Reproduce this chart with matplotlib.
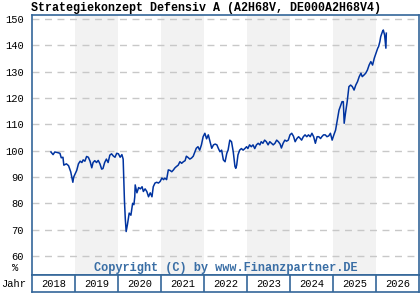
import matplotlib
matplotlib.use("Agg")
import matplotlib.pyplot as plt

# decimal year / value (%)
t = [2018.44, 2018.49, 2018.53, 2018.59, 2018.65, 2018.68, 2018.72, 2018.74, 2018.80, 2018.85,
     2018.90, 2018.93, 2018.95, 2018.97, 2019.04, 2019.08, 2019.12, 2019.16, 2019.19, 2019.23,
     2019.27, 2019.31, 2019.35, 2019.39, 2019.42, 2019.46, 2019.50, 2019.54, 2019.58, 2019.62,
     2019.65, 2019.69, 2019.73, 2019.77, 2019.81, 2019.85, 2019.89, 2019.93, 2019.97, 2020.01,
     2020.05, 2020.09, 2020.12, 2020.15, 2020.17, 2020.19, 2020.22, 2020.26, 2020.30, 2020.34,
     2020.37, 2020.39, 2020.40, 2020.44, 2020.48, 2020.52, 2020.56, 2020.59, 2020.63, 2020.67,
     2020.71, 2020.75, 2020.79, 2020.82, 2020.86, 2020.90, 2020.94, 2020.98, 2021.02, 2021.06,
     2021.09, 2021.13, 2021.17, 2021.21, 2021.25, 2021.29, 2021.32, 2021.36, 2021.40, 2021.44,
     2021.48, 2021.52, 2021.56, 2021.59, 2021.63, 2021.67, 2021.71, 2021.75, 2021.79, 2021.82,
     2021.86, 2021.90, 2021.94, 2021.98, 2022.02, 2022.06, 2022.10, 2022.14, 2022.18, 2022.22,
     2022.26, 2022.30, 2022.33, 2022.37, 2022.41, 2022.45, 2022.49, 2022.53, 2022.56, 2022.60,
     2022.64, 2022.68, 2022.72, 2022.74, 2022.76, 2022.79, 2022.83, 2022.87, 2022.91, 2022.95,
     2022.99, 2023.02, 2023.06, 2023.10, 2023.14, 2023.18, 2023.22, 2023.26, 2023.30, 2023.33,
     2023.37, 2023.41, 2023.45, 2023.49, 2023.53, 2023.57, 2023.61, 2023.65, 2023.69, 2023.73,
     2023.77, 2023.80, 2023.84, 2023.88, 2023.92, 2023.96, 2024.00, 2024.04, 2024.08, 2024.12,
     2024.16, 2024.20, 2024.24, 2024.27, 2024.31, 2024.35, 2024.39, 2024.43, 2024.47, 2024.51,
     2024.55, 2024.59, 2024.63, 2024.67, 2024.71, 2024.74, 2024.78, 2024.82, 2024.86, 2024.90,
     2024.94, 2024.98, 2025.02, 2025.06, 2025.10, 2025.14, 2025.18, 2025.21, 2025.24, 2025.26,
     2025.29, 2025.33, 2025.37, 2025.41, 2025.45, 2025.49, 2025.53, 2025.57, 2025.61, 2025.65,
     2025.68, 2025.72, 2025.76, 2025.80, 2025.84, 2025.88, 2025.92, 2025.96, 2026.00, 2026.04,
     2026.06, 2026.09, 2026.11, 2026.15, 2026.17, 2026.20, 2026.22, 2026.23, 2026.24]
v = [99.5, 98.5, 99.5, 99.3, 99.0, 97.3, 97.5, 94.5, 95.0, 94.3,
     92.0, 89.5, 88.0, 90.0, 92.5, 95.0, 96.0, 95.5, 96.5, 96.0,
     97.8, 97.5, 96.0, 93.5, 95.5, 96.2, 95.5, 96.3, 95.0, 93.0,
     93.2, 95.5, 96.8, 95.5, 98.3, 98.8, 98.0, 97.5, 99.0, 98.8,
     97.5, 98.5, 96.8, 81.0, 74.0, 69.3, 72.0, 76.3, 75.5, 80.0,
     79.5, 82.5, 87.0, 84.0, 86.0, 85.5, 86.3, 84.5, 85.5, 84.5,
     82.5, 84.0, 82.5, 86.3, 87.7, 88.0, 87.7, 88.3, 89.6, 89.0,
     89.6, 89.0, 92.7, 92.5, 92.0, 92.7, 93.4, 94.0, 94.5, 95.8,
     95.2, 95.8, 96.2, 97.9, 97.4, 96.8, 97.2, 97.9, 99.6, 100.9,
     101.5, 100.2, 102.2, 105.3, 106.6, 104.5, 106.0, 103.4, 100.9, 102.2,
     102.5, 102.2, 101.0, 99.6, 100.2, 96.5, 95.8, 99.0, 100.2, 104.0,
     103.4, 99.6, 94.0, 93.3, 94.5, 98.4, 100.2, 100.8, 100.2, 100.8,
     101.5, 100.8, 102.2, 101.5, 102.2, 100.8, 102.2, 102.8, 102.2, 103.4,
     102.8, 104.0, 103.4, 102.2, 103.4, 102.8, 102.2, 102.8, 104.0, 103.4,
     102.5, 101.0, 102.8, 104.0, 103.6, 104.0, 106.0, 106.6, 105.5, 103.4,
     104.6, 105.3, 104.6, 104.0, 105.3, 106.0, 105.3, 106.0, 105.3, 106.6,
     105.3, 102.8, 105.3, 105.3, 104.6, 105.3, 106.0, 106.0, 105.3, 105.6,
     106.6, 104.0, 106.0, 107.8, 111.6, 115.4, 117.3, 118.6, 118.6, 110.4,
     114.2, 118.6, 124.3, 124.9, 124.3, 123.0, 124.9, 126.2, 128.1, 129.4,
     128.1, 128.7, 129.4, 130.6, 132.5, 133.8, 132.5, 135.1, 137.0, 138.9,
     139.5, 141.4, 143.3, 145.2, 145.8, 143.9, 140.8, 138.9, 144.6]

years = [2018, 2019, 2020, 2021, 2022, 2023, 2024, 2025, 2026]
shaded = [2019, 2021, 2023, 2025]
yticks = [60, 70, 80, 90, 100, 110, 120, 130, 140, 150]

frame = "#336699"
mono = "Liberation Mono"

fig = plt.figure(figsize=(4.2, 3.0), dpi=100)
ax = fig.add_axes([32/420, 1-275/300, 387/420, 260/300])
for y0 in shaded:
    ax.axvspan(y0, y0+1, color="#f2f2f2", lw=0, zorder=0)
for yt in yticks:
    ax.axhline(yt, color="#c8c8c8", lw=1, dashes=(5, 4), zorder=1)
ax.plot(t, v, color="#0033a0", lw=1.1, zorder=3)
ax.set_xlim(2018, 2027)
ax.set_ylim(52.8, 151.5)
ax.set_xticks([])
ax.set_yticks(yticks)
ax.set_yticklabels([str(y) for y in yticks], fontsize=7.5, family=mono)
ax.tick_params(axis="y", length=0, pad=6)
for s in ax.spines.values():
    s.set_color(frame)
    s.set_linewidth(1.2)
ax.text(-0.035, 0.027, "%", transform=ax.transAxes, ha="right", va="center",
        fontsize=7.5, family=mono)
ax.text(0.5, 0.027, "Copyright (C) by www.Finanzpartner.DE", transform=ax.transAxes,
        ha="center", va="center", fontsize=8.6, family=mono, weight="bold",
        color="#3a6ea5", zorder=4)

fig.text(31/420, 1-8/300, "Strategiekonzept Defensiv A (A2H68V, DE000A2H68V4)",
         ha="left", va="center", fontsize=8.4, family=mono, weight="bold")

# year row
ay = fig.add_axes([32/420, 1-292/300, 387/420, 17/300])
ay.set_xlim(2018, 2027)
ay.set_ylim(0, 1)
ay.set_xticks([])
ay.set_yticks([])
for s in ay.spines.values():
    s.set_color(frame)
    s.set_linewidth(1.2)
for y0 in years:
    if y0 > 2018:
        ay.axvline(y0, color=frame, lw=1.2)
    ay.text(y0 + 0.5, 0.45, str(y0), ha="center", va="center", fontsize=7.5, family=mono)
ay.text(-0.015, 0.45, "Jahr", transform=ay.transAxes, ha="right", va="center",
        fontsize=7.5, family=mono)

fig.savefig("out.png", dpi=100)
